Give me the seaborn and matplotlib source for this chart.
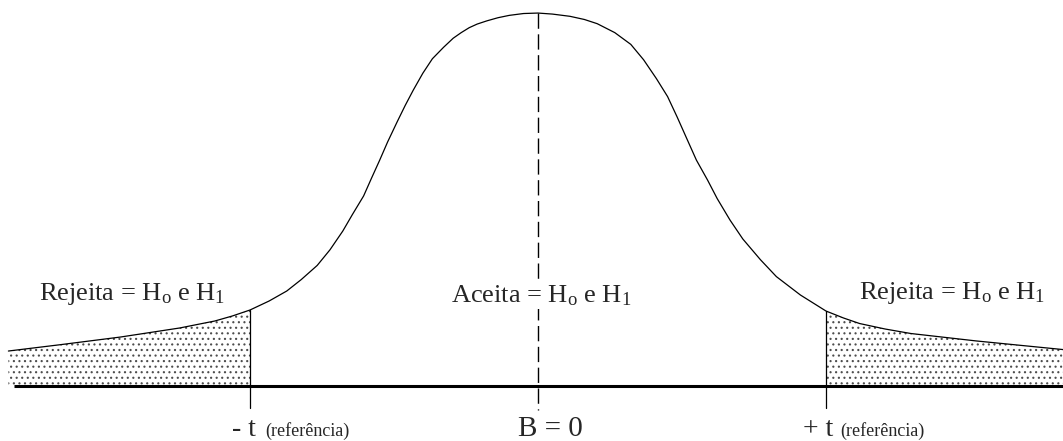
import numpy as np
import pandas as pd
import matplotlib
matplotlib.use("Agg")
import matplotlib.pyplot as plt
import seaborn as sns

# curve (x in t units, y as density)
curve_x = [-3.31, -2.99, -2.61, -2.24, -2.02, -1.91, -1.80, -1.68, -1.57, -1.48,
           -1.38, -1.30, -1.22, -1.16, -1.09, -1.04, -0.99, -0.94, -0.88, -0.83,
           -0.78, -0.72, -0.66, -0.59, -0.53, -0.48, -0.43, -0.38, -0.32, -0.25,
           -0.18, -0.09, 0.00, 0.09, 0.20, 0.29, 0.37, 0.48, 0.58, 0.66,
           0.74, 0.81, 0.87, 0.93, 0.99, 1.06, 1.12, 1.20, 1.28, 1.39,
           1.49, 1.64, 1.80, 1.91, 2.01, 2.17, 2.33, 2.74, 3.28]
curve_y = [0.0375, 0.0442, 0.0525, 0.0622, 0.0697, 0.0751, 0.0815, 0.0912, 0.1019, 0.1141,
           0.1293, 0.1461, 0.1662, 0.1839, 0.2038, 0.2231, 0.2420, 0.2617, 0.2834, 0.3009,
           0.3172, 0.3354, 0.3510, 0.3633, 0.3730, 0.3790, 0.3843, 0.3882, 0.3916, 0.3950,
           0.3975, 0.3995, 0.4000, 0.3989, 0.3965, 0.3931, 0.3886, 0.3790, 0.3664, 0.3499,
           0.3297, 0.3104, 0.2884, 0.2653, 0.2423, 0.2208, 0.2010, 0.1780, 0.1577, 0.1355,
           0.1173, 0.0976, 0.0804, 0.0729, 0.0670, 0.0611, 0.0563, 0.0483, 0.0391]

t_crit = 1.80
region_labels = ["Rejeita", "Aceita", "Rejeita"]
hyp_text = " = H$_{\\mathrm{o}}$ e H$_{1}$"

df = pd.DataFrame({"x": curve_x, "y": curve_y})

sns.set_theme(style="white")
plt.rcParams["font.family"] = ["Liberation Serif", "DejaVu Serif"]
plt.rcParams["mathtext.fontset"] = "custom"
plt.rcParams["mathtext.rm"] = "Liberation Serif"
plt.rcParams["mathtext.it"] = "Liberation Serif:italic"
plt.rcParams["hatch.linewidth"] = 0.8

fig = plt.figure(figsize=(10.63, 4.41), dpi=100)
ax = fig.add_axes([0, 0, 1, 1])
ax.set_xlim(-3.3625, 3.2813)
ax.set_ylim(-0.059, 0.414)
ax.axis("off")

# stippled rejection tails
left = df[df["x"] <= -t_crit]
right = df[df["x"] >= t_crit]
for part in (left, right):
    ax.fill_between(part["x"], 0, part["y"], facecolor="white", edgecolor="0.3",
                    hatch="...", lw=0)

sns.lineplot(data=df, x="x", y="y", color="black", lw=0.9, sort=True,
             estimator=None, ax=ax)

# baseline
ax.plot([-3.275, 3.2813], [0, 0], color="black", lw=2.2, solid_capstyle="butt")

# critical value lines
y_at = dict(zip(curve_x, curve_y))
for xc in (-t_crit, t_crit):
    ax.plot([xc, xc], [y_at[xc], -0.0236], color="black", lw=0.9)

# centre line
ax.plot([0, 0], [max(curve_y), -0.0257], color="black", lw=1.0, dashes=(11, 4))

# region labels
white = dict(facecolor="white", edgecolor="none", pad=1)
ax.text(-2.534, 0.0922, region_labels[0] + hyp_text, ha="center", va="baseline", fontsize=19)
ax.text(0.019, 0.090, region_labels[1] + hyp_text, ha="center", va="baseline",
        fontsize=19, bbox=white)
ax.text(2.59, 0.093, region_labels[2] + hyp_text, ha="center", va="baseline", fontsize=19)

# axis labels
ax.text(-1.9125, -0.0536, "- t", ha="left", va="baseline", fontsize=20)
ax.text(-1.706, -0.0536, "(referência)", ha="left", va="baseline", fontsize=13)
ax.text(1.656, -0.0536, "+ t", ha="left", va="baseline", fontsize=20)
ax.text(1.8875, -0.0536, "(referência)", ha="left", va="baseline", fontsize=13)
ax.text(0.075, -0.0536, "B = 0", ha="center", va="baseline", fontsize=21)

fig.savefig("out.png", dpi=100)
